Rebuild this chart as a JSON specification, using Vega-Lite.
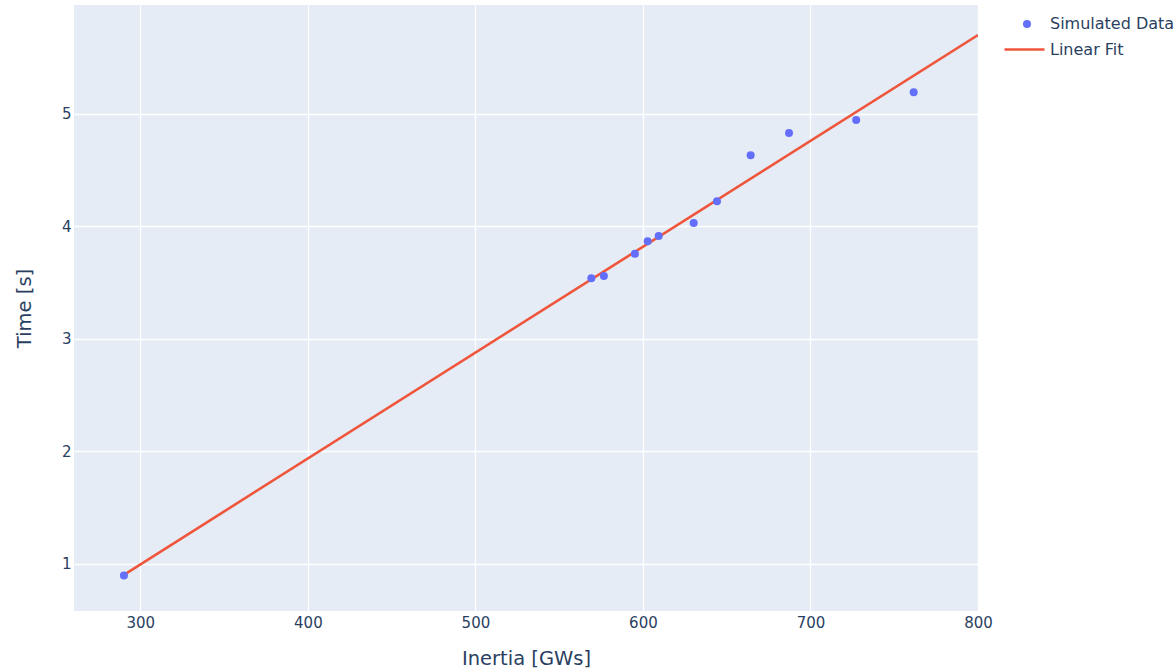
{
  "$schema": "https://vega.github.io/schema/vega-lite/v6.json",
  "autosize": {"type": "none"},
  "padding": {"left": 74, "top": 5, "right": 198, "bottom": 59},
  "width": 904,
  "height": 606,
  "background": "white",
  "config": {
    "view": {"fill": "#E5ECF6", "stroke": null},
    "font": "DejaVu Sans",
    "axis": {
      "domain": false,
      "ticks": false,
      "gridColor": "white",
      "gridWidth": 1.3,
      "labelColor": "#2a3f5f",
      "labelFontSize": 15,
      "labelFont": "DejaVu Sans",
      "labelFlush": false,
      "titleColor": "#2a3f5f",
      "titleFontSize": 19.5,
      "titleFont": "DejaVu Sans",
      "titleFontWeight": "normal"
    },
    "legend": {
      "labelColor": "#2a3f5f",
      "labelFontSize": 16,
      "labelFont": "DejaVu Sans",
      "padding": 0,
      "title": null
    }
  },
  "datasets": {
    "points": [
      {"inertia": 290.2, "time": 0.893, "series": "Simulated Data"},
      {"inertia": 569.2, "time": 3.538, "series": "Simulated Data"},
      {"inertia": 576.7, "time": 3.556, "series": "Simulated Data"},
      {"inertia": 595.2, "time": 3.754, "series": "Simulated Data"},
      {"inertia": 602.8, "time": 3.867, "series": "Simulated Data"},
      {"inertia": 609.4, "time": 3.912, "series": "Simulated Data"},
      {"inertia": 630.3, "time": 4.028, "series": "Simulated Data"},
      {"inertia": 644.2, "time": 4.221, "series": "Simulated Data"},
      {"inertia": 664.3, "time": 4.630, "series": "Simulated Data"},
      {"inertia": 687.2, "time": 4.828, "series": "Simulated Data"},
      {"inertia": 727.3, "time": 4.944, "series": "Simulated Data"},
      {"inertia": 761.6, "time": 5.190, "series": "Simulated Data"}
    ],
    "fit": [
      {"inertia": 290.2, "time": 0.90, "series": "Linear Fit"},
      {"inertia": 800, "time": 5.70, "series": "Linear Fit"}
    ]
  },
  "layer": [
    {
      "data": {"name": "fit"},
      "mark": {"type": "line", "strokeWidth": 2.6, "clip": true},
      "encoding": {
        "x": {"field": "inertia", "type": "quantitative",
              "scale": {"domain": [260.4, 800], "nice": false, "zero": false},
              "axis": {"values": [300, 400, 500, 600, 700, 800], "format": "d", "title": "Inertia [GWs]",
                       "labelPadding": 4, "titleX": 452, "titleY": 47, "titleBaseline": "middle"}},
        "y": {"field": "time", "type": "quantitative",
              "scale": {"domain": [0.578, 5.967], "nice": false, "zero": false},
              "axis": {"values": [1, 2, 3, 4, 5], "format": "d", "title": "Time [s]", "labelPadding": 3,
                       "titleX": -50, "titleY": 303, "titleAngle": -90, "titleBaseline": "middle", "titleAlign": "center"}},
        "stroke": {"field": "series", "type": "nominal",
                   "scale": {"domain": ["Linear Fit"], "range": ["#EF553B"]},
                   "legend": {"orient": "none", "legendX": 929, "legendY": 23,
                              "symbolType": "stroke", "symbolSize": 1600, "symbolStrokeWidth": 2.6,
                              "labelOffset": 4}}
      }
    },
    {
      "data": {"name": "points"},
      "mark": {"type": "point", "filled": true, "shape": "circle", "size": 64, "opacity": 1},
      "encoding": {
        "x": {"field": "inertia", "type": "quantitative"},
        "y": {"field": "time", "type": "quantitative"},
        "fill": {"field": "series", "type": "nominal",
                 "scale": {"domain": ["Simulated Data"], "range": ["#636efa"]},
                 "legend": {"orient": "none", "legendX": 945, "legendY": 11,
                            "symbolType": "circle", "symbolSize": 64, "symbolOpacity": 1,
                            "symbolStrokeWidth": 0, "labelOffset": 15}}
      }
    }
  ]
}
